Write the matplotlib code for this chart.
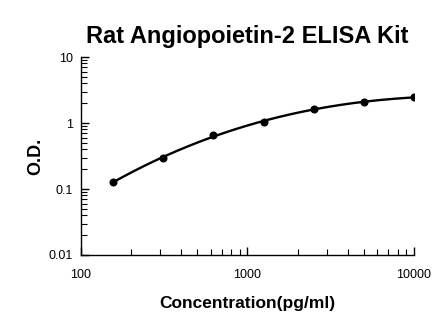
import numpy as np
import matplotlib
matplotlib.use("Agg")
import matplotlib.pyplot as plt
from matplotlib.ticker import LogLocator, NullFormatter, FixedLocator, FixedFormatter

plt.rcParams['font.family'] = ['Liberation Sans', 'DejaVu Sans']

conc = [156, 312, 625, 1250, 2500, 5000, 10000]
od = [0.128, 0.295, 0.66, 1.03, 1.64, 2.08, 2.45]

x_ticks = [100, 1000, 10000]
x_labels = ['100', '1000', '10000']
y_ticks = [0.01, 0.1, 1, 10]
y_labels = ['0.01', '0.1', '1', '10']

# smooth fit in log-log space
lx = np.log10(conc)
ly = np.log10(od)
coef = np.polyfit(lx, ly, 3)
fx = np.linspace(lx[0], lx[-1], 200)
fy = np.polyval(coef, fx)

fig = plt.figure(figsize=(4.46, 3.26), dpi=100)
ax = fig.add_axes([0.1816, 0.2178, 0.7464, 0.6072])

ax.plot(10 ** fx, 10 ** fy, color='black', lw=1.7)
ax.plot(conc, od, 'o', color='black', ms=4.8)

ax.set_xscale('log')
ax.set_yscale('log')
ax.set_xlim(100, 10000)
ax.set_ylim(0.01, 10)

ax.xaxis.set_major_locator(FixedLocator(x_ticks))
ax.xaxis.set_major_formatter(FixedFormatter(x_labels))
ax.yaxis.set_major_locator(FixedLocator(y_ticks))
ax.yaxis.set_major_formatter(FixedFormatter(y_labels))
ax.xaxis.set_minor_locator(LogLocator(base=10, subs=np.arange(2, 10)))
ax.yaxis.set_minor_locator(LogLocator(base=10, subs=np.arange(2, 10)))
ax.xaxis.set_minor_formatter(NullFormatter())
ax.yaxis.set_minor_formatter(NullFormatter())

ax.tick_params(which='major', direction='in', length=6, width=1, labelsize=9, pad=10)
ax.tick_params(which='minor', direction='in', length=4, width=0.8)
ax.tick_params(axis='y', pad=6)

for s in ['top', 'right']:
    ax.spines[s].set_visible(False)
for s in ['left', 'bottom']:
    ax.spines[s].set_linewidth(1)

ax.set_title('Rat Angiopoietin-2 ELISA Kit', fontsize=17, fontweight='bold', pad=10)
ax.set_xlabel('Concentration(pg/ml)', fontsize=12.5, fontweight='bold', labelpad=11)
ax.set_ylabel('O.D.', fontsize=13, fontweight='bold', labelpad=3)

fig.savefig('out.png', dpi=100)
